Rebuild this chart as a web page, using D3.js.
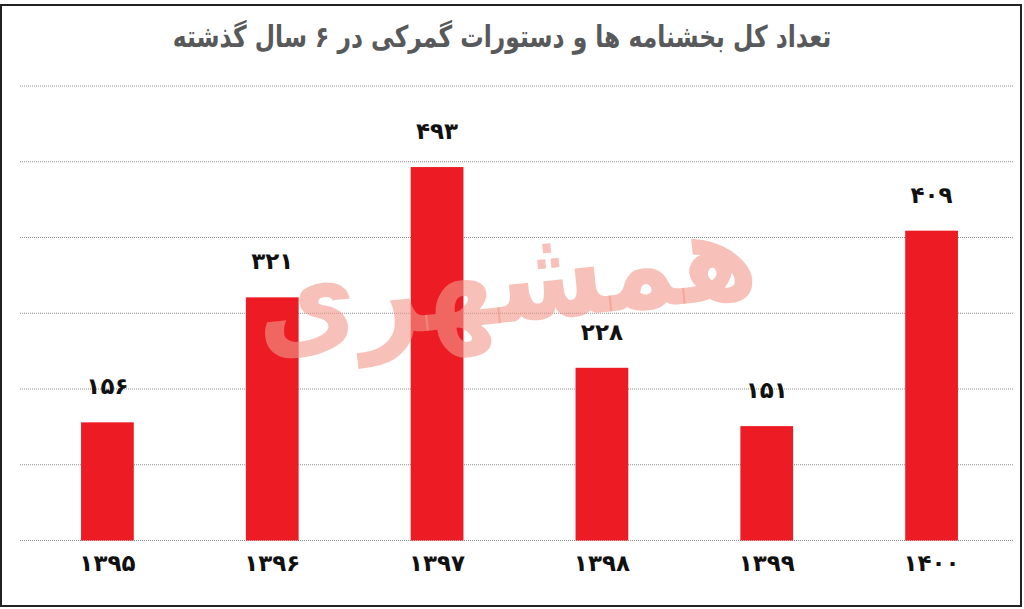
<!DOCTYPE html>
<html>
<head>
<meta charset="utf-8">
<script src="https://cdn.jsdelivr.net/npm/d3@7"></script>
<style>
  body { margin: 0; background: #fff; }
  text { font-family: "DejaVu Sans", sans-serif; }
</style>
</head>
<body>
<svg id="chart"></svg>
<script>
// data
const years = ['۱۳۹۵', '۱۳۹۶', '۱۳۹۷', '۱۳۹۸', '۱۳۹۹', '۱۴۰۰'];
const counts = [156, 321, 493, 228, 151, 409];
const valueLabels = ['۱۵۶', '۳۲۱', '۴۹۳', '۲۲۸', '۱۵۱', '۴۰۹'];
const gridTicks = [0, 100, 200, 300, 400, 500, 600];
const title = 'تعداد کل بخشنامه ها و دستورات گمرکی در ۶ سال گذشته';
const watermark = 'همشهری';

const width = 1024, height = 609;
const rows = years.map((y, i) => ({ year: y, value: counts[i], label: valueLabels[i] }));

const svg = d3.select('#chart')
    .attr('width', width)
    .attr('height', height);

// frame
svg.append('rect')
    .attr('x', 1).attr('y', 5)
    .attr('width', 1020).attr('height', 601)
    .attr('fill', '#fff')
    .attr('stroke', '#222')
    .attr('stroke-width', 2);

const xscale = d3.scaleBand()
    .domain(years)
    .range([25, 1014])
    .paddingInner(0.68)
    .paddingOuter(0.34);

const yscale = d3.scaleLinear()
    .domain([0, 600])
    .range([540.5, 86]);

// dotted gridlines
svg.append('g')
    .selectAll('line')
    .data(gridTicks)
    .join('line')
    .attr('x1', 20).attr('x2', 1013)
    .attr('y1', d => yscale(d)).attr('y2', d => yscale(d))
    .attr('stroke', '#8a8a8a')
    .attr('stroke-width', 1)
    .attr('stroke-dasharray', '1,1');

// bars
svg.append('g')
    .selectAll('rect')
    .data(rows)
    .join('rect')
    .attr('x', d => xscale(d.year))
    .attr('y', d => yscale(d.value))
    .attr('width', xscale.bandwidth())
    .attr('height', d => yscale(0) - yscale(d.value))
    .attr('fill', '#ed1c24');

// watermark
svg.append('text')
    .attr('transform', 'translate(510, 322) rotate(-6) scale(1, 1.15)')
    .attr('text-anchor', 'middle')
    .attr('direction', 'rtl')
    .style('font-size', '110px')
    .style('font-weight', 'bold')
    .attr('fill', '#f2988a')
    .attr('fill-opacity', 0.6)
    .text(watermark);

// value labels
svg.append('g')
    .selectAll('text')
    .data(rows)
    .join('text')
    .attr('x', d => xscale(d.year) + xscale.bandwidth() / 2)
    .attr('y', d => yscale(d.value) - 28)
    .attr('text-anchor', 'middle')
    .style('font-size', '23px')
    .style('font-weight', 'bold')
    .attr('fill', '#111')
    .text(d => d.label);

// x axis labels
const xaxis = d3.axisBottom(xscale).tickSize(0).tickPadding(0);
const xg = svg.append('g')
    .attr('transform', `translate(0, ${yscale(0)})`)
    .call(xaxis);
xg.select('.domain').remove();
xg.selectAll('text')
    .attr('y', 30)
    .attr('dy', 0)
    .style('font-size', '23px')
    .style('font-weight', 'bold')
    .style('font-family', '"DejaVu Sans", sans-serif')
    .attr('fill', '#111');

// title
svg.append('text')
    .attr('transform', 'translate(502, 47) scale(0.78, 1)')
    .attr('text-anchor', 'middle')
    .attr('direction', 'rtl')
    .style('font-size', '30px')
    .style('font-weight', 'bold')
    .attr('fill', '#58595b')
    .text(title);
</script>
</body>
</html>
